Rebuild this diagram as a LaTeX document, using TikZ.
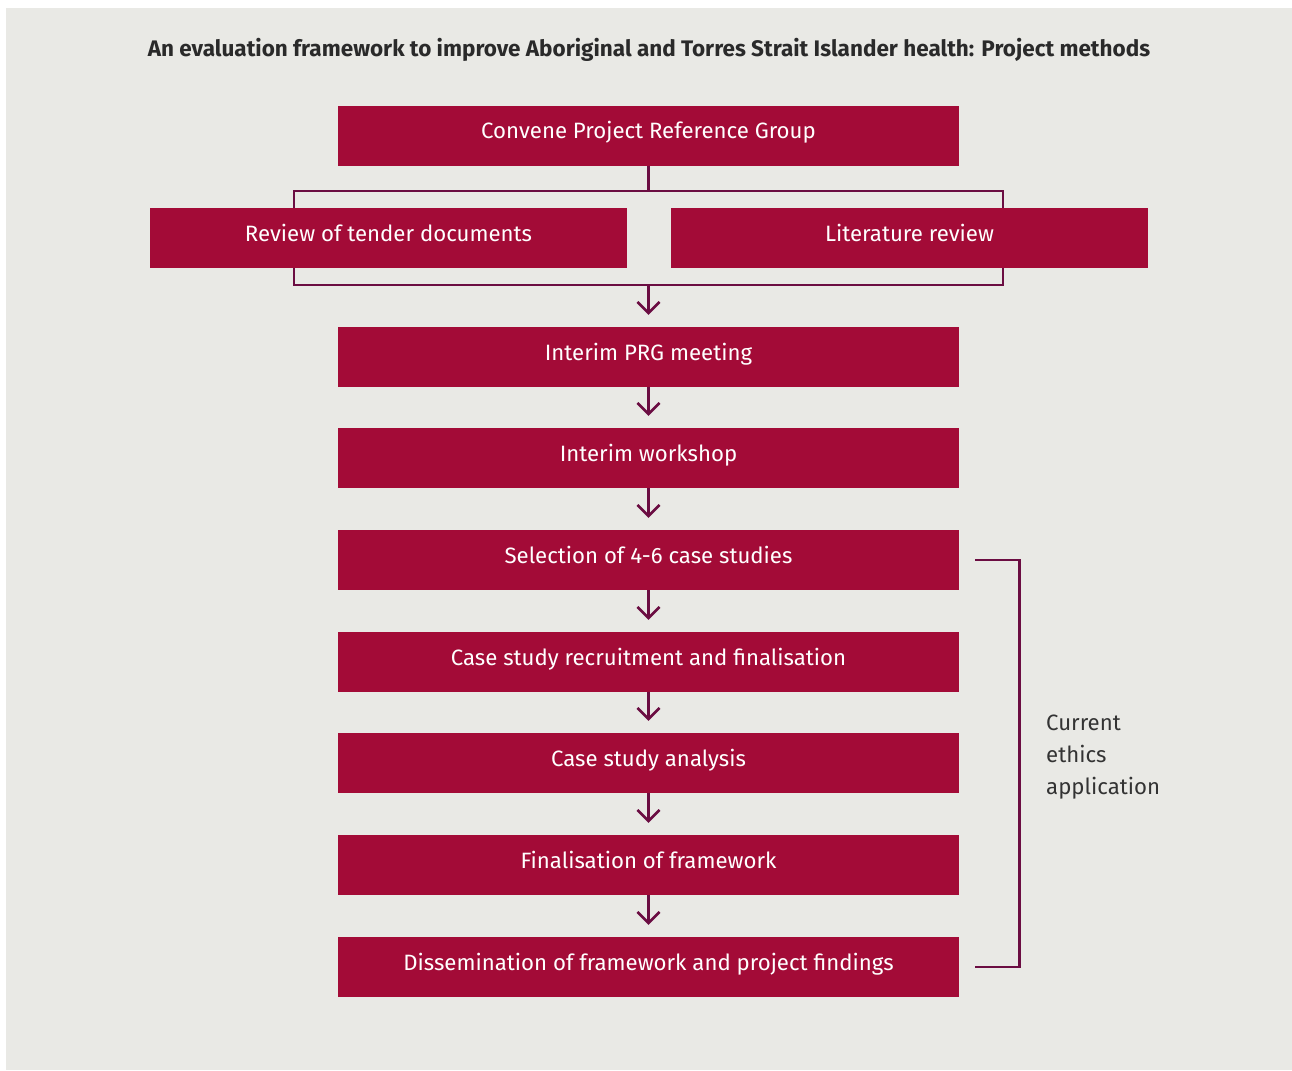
\documentclass[tikz,border=0pt]{standalone}
\usepackage{fontspec}
\setmainfont{Fira Sans}
\usetikzlibrary{positioning,arrows.meta}

\definecolor{boxred}{HTML}{A30B37}
\definecolor{linepurple}{HTML}{6B0D42}
\definecolor{panelgrey}{HTML}{E9E9E5}
\definecolor{titlegrey}{HTML}{2A2A2A}
\definecolor{labelgrey}{HTML}{333333}

\tikzset{
  stepbox/.style={fill=boxred, text=white, minimum width=621pt, minimum height=60pt,
    inner sep=0pt, text height=16pt, text depth=10pt, font=\fontsize{22.2}{26}\selectfont},
  sidebox/.style={stepbox, minimum width=477pt},
  flowline/.style={draw=linepurple, line width=2.6pt},
  flowarrow/.style={flowline, -{Straight Barb[length=11pt,width=22pt,line width=2.6pt]}, shorten >=12pt},
}

\begin{document}
\begin{tikzpicture}[x=1pt,y=-1pt]
\useasboundingbox (0,0) rectangle (1292,1070);
\fill[white] (0,0) rectangle (1292,1070);
\fill[panelgrey] (6,8) rectangle (1292,1070);

\node[font=\bfseries\fontsize{22.5}{26}\selectfont, text=titlegrey] (title) at (649,50)
  {An evaluation framework to improve Aboriginal and Torres Strait Islander health: Project methods};

% frame joining the two reviews
\coordinate (splittop) at (648.5,191);
\coordinate (joinbottom) at (648.5,285);
\draw[flowline] (294,191) rectangle (1003,285);

\node[stepbox] (convene) at (648.5,136) {Convene Project Reference Group};
\node[sidebox] (tender) at (388.5,238) {Review of tender documents};
\node[sidebox] (litreview) at (909.5,238) {Literature review};
\node[stepbox] (prg) at (648.5,357) {Interim PRG meeting};
\node[stepbox] (workshop) at (648.5,458) {Interim workshop};
\node[stepbox] (selection) at (648.5,560) {Selection of 4-6 case studies};
\node[stepbox] (recruit) at (648.5,662) {Case study recruitment and finalisation};
\node[stepbox] (analysis) at (648.5,763) {Case study analysis};
\node[stepbox] (finalise) at (648.5,865) {Finalisation of framework};
\node[stepbox] (dissem) at (648.5,967) {Dissemination of framework and project findings};

\draw[flowline] (convene) -- (splittop);
\draw[flowarrow] (joinbottom) -- (prg);
\foreach \a/\b in {prg/workshop,workshop/selection,selection/recruit,recruit/analysis,analysis/finalise,finalise/dissem}
  \draw[flowarrow] (\a) -- (\b);

% ethics bracket
\draw[flowline] ([xshift=16pt]selection.east) -- ([xshift=60pt]selection.east)
  |- ([xshift=16pt]dissem.east);
\node[anchor=north west, align=left, inner sep=0pt, text=labelgrey,
  font=\fontsize{22.2}{32}\selectfont] (ethics) at (1046,715) {Current\\ethics\\application};

\end{tikzpicture}
\end{document}
